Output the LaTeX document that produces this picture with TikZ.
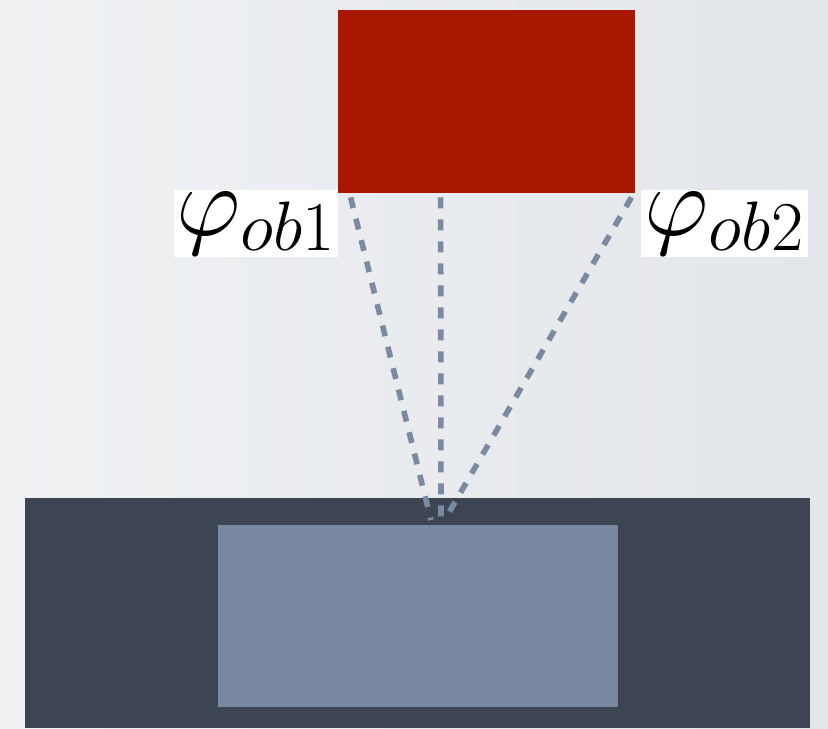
\RequirePackage{fix-cm}
\documentclass[tikz,border=0pt]{standalone}
\usepackage{amsmath,amssymb}
\usepackage{xcolor}
\usetikzlibrary{calc}

\definecolor{bgleft}{HTML}{EFF1F3}
\definecolor{bgright}{HTML}{E3E6EA}
\definecolor{objred}{HTML}{A81800}
\definecolor{basedark}{HTML}{3D4452}
\definecolor{baselight}{HTML}{7888A0}
\definecolor{rayblue}{HTML}{7A8AA3}

\begin{document}
\begin{tikzpicture} [x=0.5pt,y=-0.5pt]
  \tikzstyle{block}=[rectangle,draw=none,inner sep=0pt]
  \tikzstyle{label}=[rectangle,fill=white,draw=none,inner sep=0pt,font=\fontsize{50}{52}\selectfont]
  \tikzstyle{ray}=[rayblue,line width=2.8pt,dash pattern=on 5.5pt off 5.5pt]

  \fill[left color=bgleft,right color=bgright] (0,0) rectangle (828,728);
  \useasboundingbox (0,0) rectangle (828,728);

  \node[block,fill=objred,minimum width=148.5pt,minimum height=91.5pt]   (obj)   at (486.5,101.5) {};
  \node[block,fill=basedark,minimum width=392.5pt,minimum height=115pt]  (base)  at (417.5,613) {};
  \node[block,fill=baselight,minimum width=200pt,minimum height=91pt]    (inner) at (418,616) {};

  \node[label,minimum width=82pt,minimum height=33.5pt]   (phi1) at (256,223.5) {$\varphi_{ob1}$};
  \node[label,minimum width=83.5pt,minimum height=33.5pt] (phi2) at (724.5,223.5) {$\varphi_{ob2}$};

  % rays from the object down to the base
  \coordinate (hub) at (441,520);
  \coordinate (s1) at ($(obj.south west)+(13,4)$);
  \coordinate (s2) at ($(obj.south west)+(103,4)$);
  \coordinate (s3) at ($(obj.south east)+(-4,4)$);

  \draw[ray] (s1) -- ($(hub)+(-10,0)$);
  \draw[ray] (s2) -- ($(hub)+(0,4)$);
  \draw[ray] (s3) -- ($(hub)+(6,-4)$);

\end{tikzpicture}
\end{document}
